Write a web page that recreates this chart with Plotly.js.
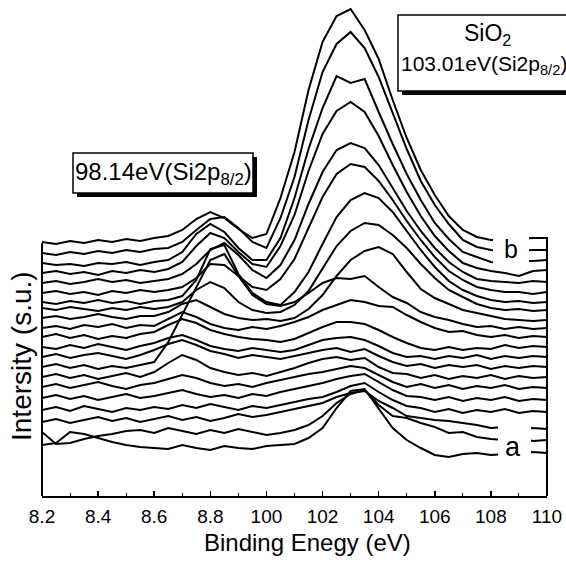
<!DOCTYPE html>
<html><head><meta charset="utf-8">
<script src="https://cdn.plot.ly/plotly-3.0.1.min.js"></script>
<style>html,body{margin:0;padding:0;background:#fff}#chart{width:566px;height:564px}</style>
</head><body><div id="chart"></div>
<script>
// Binding energy grid (axis units)
const energy = [92,92.5,93,93.5,94,94.5,95,95.5,96,96.5,97,97.5,98,98.5,99,99.5,100,100.5,101,101.5,102,102.5,103,103.5,104,104.5,105,105.5,106,106.5,107,107.5,108,108.5,109,109.5,110];
const tickValues = [92,94,96,98,100,102,104,106,108,110];
const tickLabels = ['8.2','8.4','8.6','8.8','100','102','104','106','108','110'];
const minorTickValues = [93,95,97,99,101,103,105,107,109];

// Stacked spectra, bottom (a) to top (b), offset intensities
const spectrumA  = [55,57,68,66,62,58,55,53,52,51,55,52,50,54,52,51,54,55,56,62,72,92,109,111,92,72,60,52,45,43,46,47,45,46,47,48,47];
const spectrum02 = [68,56,57,61,64,66,69,70,67,72,69,66,70,67,71,68,65,67,70,75,84,97,106,110,95,84,82,77,73,67,68,63,61,60,62,59,60];
const spectrum03 = [78,81,77,80,83,79,82,78,81,84,80,83,79,82,86,83,85,88,91,94,97,103,107,109,99,92,84,82,80,79,77,75,72,73,70,72,71];
const spectrum04 = [90,93,89,94,91,88,92,90,93,91,95,92,96,93,90,94,92,95,98,101,103,108,114,117,108,100,94,92,88,91,87,90,88,91,87,89,88];
const spectrum05 = [102,105,101,104,100,103,106,102,104,107,110,106,103,105,102,106,104,108,111,114,117,121,124,126,118,110,104,103,100,103,99,102,100,103,99,101,100];
const spectrum06 = [113,116,112,115,118,114,111,115,117,121,125,122,117,114,116,113,117,120,123,126,128,131,134,132,125,118,113,116,112,115,111,114,112,115,111,113,112];
const spectrum07 = [123,126,122,125,121,124,127,123,128,137,145,140,132,128,125,127,124,128,132,137,141,143,140,142,133,127,126,122,125,121,124,122,125,121,124,122,123];
const spectrum08 = [133,136,132,135,131,134,132,135,138,158,185,212,240,246,224,205,196,194,198,207,217,222,221,224,213,203,197,188,183,180,176,173,174,171,173,171,172];
const spectrum09 = [143,146,142,145,147,144,141,145,150,156,160,155,149,146,142,145,143,141,144,147,150,152,148,151,144,138,134,136,132,135,133,135,131,134,132,134,133];
const spectrum10 = [153,151,155,152,156,153,150,154,157,162,165,160,154,151,149,152,150,148,150,155,160,162,163,160,154,147,143,144,141,144,142,145,141,144,142,144,143];
const spectrum11 = [163,166,162,165,161,164,162,166,168,175,181,177,170,166,163,161,160,158,161,167,173,178,178,176,170,163,157,152,150,153,150,152,151,155,152,154,153];
const spectrum12 = [172,174,171,175,173,176,172,175,174,181,188,183,176,172,170,173,171,174,178,183,190,195,200,198,194,193,185,178,172,168,169,165,163,165,162,164,163];
const spectrum13 = [182,184,181,183,186,183,181,184,184,188,196,200,193,186,182,180,181,179,182,191,205,224,240,249,253,246,228,211,202,196,190,187,184,181,180,179,180];
const spectrum14 = [192,190,193,191,189,192,190,193,191,193,198,210,218,212,198,190,187,188,195,209,232,254,269,277,275,265,252,236,222,210,203,196,192,190,191,189,190];
const spectrum15 = [198,196,199,197,200,197,199,196,199,200,204,220,251,255,226,207,198,195,208,228,256,283,300,307,302,288,269,250,233,219,210,204,200,198,199,197,198];
const spectrum16 = [207,209,206,208,205,209,207,210,208,210,213,222,236,235,224,213,210,221,241,272,303,326,336,333,319,300,279,260,243,229,220,213,210,208,208,206,208];
const spectrum17 = [217,219,216,218,221,218,220,217,219,221,226,236,250,257,245,230,222,235,260,296,328,350,357,352,335,312,289,269,252,238,228,221,219,218,217,219,218];
const spectrum18 = [227,229,226,228,225,229,227,230,228,231,238,254,267,262,248,236,233,254,285,329,366,389,398,388,364,335,308,284,264,249,237,232,229,227,224,229,230];
const spectrum19 = [237,235,236,234,237,236,238,235,238,240,248,266,276,268,252,240,240,262,302,351,392,424,417,421,388,356,326,300,277,261,248,243,238,237,239,239,240];
const spectrum20 = [247,245,248,246,249,247,250,248,251,252,258,270,281,283,272,258,252,282,323,380,428,456,468,452,423,388,351,319,295,276,260,253,250,249,249,250,250];
const spectrumB  = [258,256,259,257,260,258,261,259,262,264,270,281,288,282,271,262,266,302,348,410,458,484,491,470,441,400,362,330,305,284,270,263,260,260,261,262,262];

const spectra = [spectrumA,spectrum02,spectrum03,spectrum04,spectrum05,spectrum06,spectrum07,spectrum08,spectrum09,spectrum10,
  spectrum11,spectrum12,spectrum13,spectrum14,spectrum15,spectrum16,spectrum17,spectrum18,spectrum19,spectrum20,spectrumB];

const traces = spectra.map(s => ({
  x: energy, y: s, type: 'scatter', mode: 'lines',
  line: {color: '#000', width: 2}, hoverinfo: 'skip', showlegend: false
}));

// pixel -> paper helpers (plot area 42..547 x, 5..496 y)
const P = px => (px - 42) / 505;
const Q = py => (496 - py) / 491;

const shapes = [
  {type:'line', xref:'paper', yref:'paper', x0:0, x1:0, y0:0, y1:Q(243), line:{color:'#000', width:2}},
  {type:'line', xref:'paper', yref:'paper', x0:1, x1:1, y0:0, y1:Q(237), line:{color:'#000', width:2}},
  {type:'rect', xref:'paper', yref:'paper', x0:P(77), x1:P(257), y0:Q(197), y1:Q(157), fillcolor:'#000', line:{width:0}},
  {type:'rect', xref:'paper', yref:'paper', x0:P(73), x1:P(253), y0:Q(193), y1:Q(153), fillcolor:'#fff', line:{color:'#000', width:1.5}},
  {type:'rect', xref:'paper', yref:'paper', x0:P(402), x1:P(620), y0:Q(95), y1:Q(19), fillcolor:'#000', line:{width:0}},
  {type:'rect', xref:'paper', yref:'paper', x0:P(398), x1:P(616), y0:Q(91), y1:Q(15), fillcolor:'#fff', line:{color:'#000', width:1.5}},
  {type:'rect', xref:'paper', yref:'paper', x0:P(493), x1:P(529), y0:Q(268), y1:Q(233), fillcolor:'#fff', line:{width:0}},
  {type:'rect', xref:'paper', yref:'paper', x0:P(498), x1:P(531), y0:Q(462), y1:Q(420), fillcolor:'#fff', line:{width:0}}
];

const annotations = [
  {xref:'paper', yref:'paper', x:P(163), y:Q(173), text:'98.14eV(Si2p<sub>8/2</sub>)', showarrow:false, xanchor:'center', yanchor:'middle', font:{size:24}},
  {xref:'paper', yref:'paper', x:P(487), y:Q(35), text:'SiO<sub>2</sub>', showarrow:false, xanchor:'center', yanchor:'middle', font:{size:23}},
  {xref:'paper', yref:'paper', x:P(399), y:Q(65), text:'103.01eV(Si2p<sub>8/2</sub>)', showarrow:false, xanchor:'left', yanchor:'middle', font:{size:21}},
  {xref:'paper', yref:'paper', x:P(511), y:Q(249), text:'b', showarrow:false, xanchor:'center', yanchor:'middle', font:{size:25}},
  {xref:'paper', yref:'paper', x:P(513), y:Q(447), text:'a', showarrow:false, xanchor:'center', yanchor:'middle', font:{size:27}},
  {xref:'paper', yref:'paper', x:P(307), y:Q(542), text:'Binding Enegy (eV)', showarrow:false, xanchor:'center', yanchor:'middle', font:{size:24}},
  {xref:'paper', yref:'paper', x:P(21), y:Q(356), text:'Intersity (s.u.)', showarrow:false, textangle:-90, xanchor:'center', yanchor:'middle', font:{size:28}}
];

const layout = {
  width: 566, height: 564,
  margin: {l:42, r:19, t:5, b:68},
  paper_bgcolor: '#fff', plot_bgcolor: '#fff',
  font: {family: '"Liberation Sans", Arial, Helvetica, sans-serif', color: '#000'},
  showlegend: false,
  xaxis: {
    range: [92, 110], tickmode: 'array', tickvals: tickValues, ticktext: tickLabels,
    ticks: 'inside', ticklen: 5, tickwidth: 1.5, tickcolor: '#000',
    minor: {ticks: 'inside', ticklen: 3, tickwidth: 1, tickcolor: '#000', tickvals: minorTickValues, showgrid: false},
    showline: true, linewidth: 2, linecolor: '#000', showgrid: false, zeroline: false,
    tickfont: {size: 19}, ticklabelstandoff: 2, fixedrange: true
  },
  yaxis: {
    range: [4, 495], showline: false, showticklabels: false, ticks: '', showgrid: false, zeroline: false, fixedrange: true
  },
  shapes: shapes,
  annotations: annotations
};

Plotly.newPlot('chart', traces, layout, {displayModeBar: false, staticPlot: true});
</script>
</body></html>
